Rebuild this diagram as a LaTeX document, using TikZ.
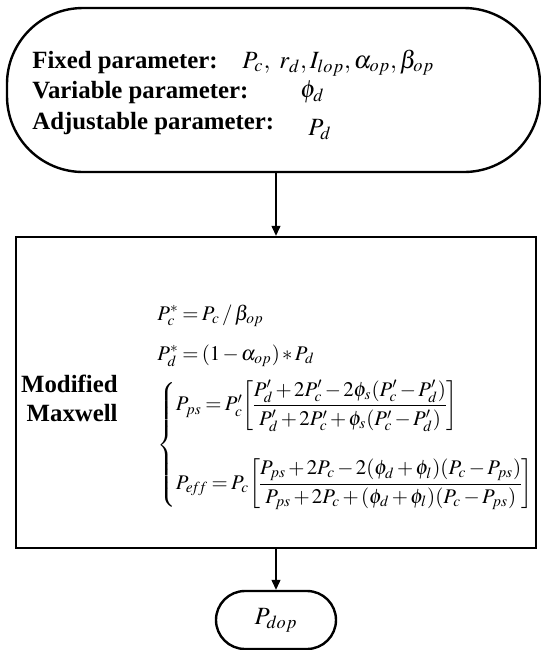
\documentclass[tikz,border=0pt]{standalone}
\usepackage{amsmath}
\usepackage{mathptmx}
\usepackage{fontspec}
\setmainfont{Liberation Serif}
\usetikzlibrary{positioning, arrows.meta}
\newcommand{\bigtxt}{\fontsize{12.4}{14.5}\selectfont}
\newcommand{\eqtxt}{\fontsize{10.4}{13.5}\selectfont}
\newcommand{\tightmath}{\medmuskip=2mu\thickmuskip=3mu\nulldelimiterspace=0pt}
\tikzset{
  term/.style={draw, line width=1.2pt, rounded corners=#1, inner sep=0pt},
  proc/.style={draw, line width=1.2pt, inner sep=0pt},
  arr/.style={-{Triangle[length=5pt, width=4.5pt]}, line width=0.6pt},
  lbl/.style={font=\bigtxt\bfseries, anchor=base west, inner sep=0pt},
  eq/.style={font=\eqtxt, anchor=base west, inner sep=0pt},
}

\begin{document}
\begin{tikzpicture}[x=0.5pt, y=-0.5pt, font=\bigtxt]
  \useasboundingbox (0,0) rectangle (541,650);

  \node[term=38pt, minimum width=266.5pt, minimum height=82pt] (inputs)
    at (273.5,90) {};
  \node[proc, minimum width=260pt, minimum height=155.5pt] (model)
    at (276,392.5) {};
  \node[term=14.5pt, minimum width=60pt, minimum height=29pt] (output)
    at (276,620) {$P_{dop}$};

  \draw[arr] (model.north |- inputs.south) -- (model.north);
  \draw[arr] (model.south) -- (output.north);

  % parameters
  \node[lbl] (fixedlbl) at (32,68) {Fixed parameter:};
  \node[lbl] (varlbl) at (32,98) {Variable parameter:};
  \node[lbl] (adjlbl) at (32,129) {Adjustable parameter:};
  \node[eq, font=\bigtxt] (fixedval) at (242,68)
    {$P_c,\ r_d, I_{lop}, \alpha_{op}, \beta_{op}$};
  \node[eq, font=\bigtxt] (varval) at (300,97) {$\phi_d$};
  \node[eq, font=\bigtxt] (adjval) at (308,135) {$P_d$};

  % model
  \node[lbl, anchor=east, align=right] (modlbl) at (118,398) {Modified\\Maxwell};
  \node[eq] (eqc) at (157,320) {$\tightmath P_c^{*} = P_c \,/\, \beta_{op}$};
  \node[eq] (eqd) at (157,360) {$\tightmath P_d^{*} = (1-\alpha_{op})*P_d$};
  \node[eq, anchor=west] (eqmix) at (157,445)
    {$\tightmath\left\{\begin{array}{@{}l@{}}
      \tightmath P_{ps} = P_c^{\prime}\!\left[\dfrac{P_d^{\prime}+2P_c^{\prime}-2\phi_s(P_c^{\prime}-P_d^{\prime})}
        {P_d^{\prime}+2P_c^{\prime}+\phi_s(P_c^{\prime}-P_d^{\prime})}\right]\\[20pt]
      \tightmath P_{e\!f\!f} = P_c\!\left[\dfrac{P_{ps}+2P_c-2(\phi_d+\phi_l)(P_c-P_{ps})}
        {P_{ps}+2P_c+(\phi_d+\phi_l)(P_c-P_{ps})}\right]
    \end{array}\right.$};
\end{tikzpicture}
\end{document}
